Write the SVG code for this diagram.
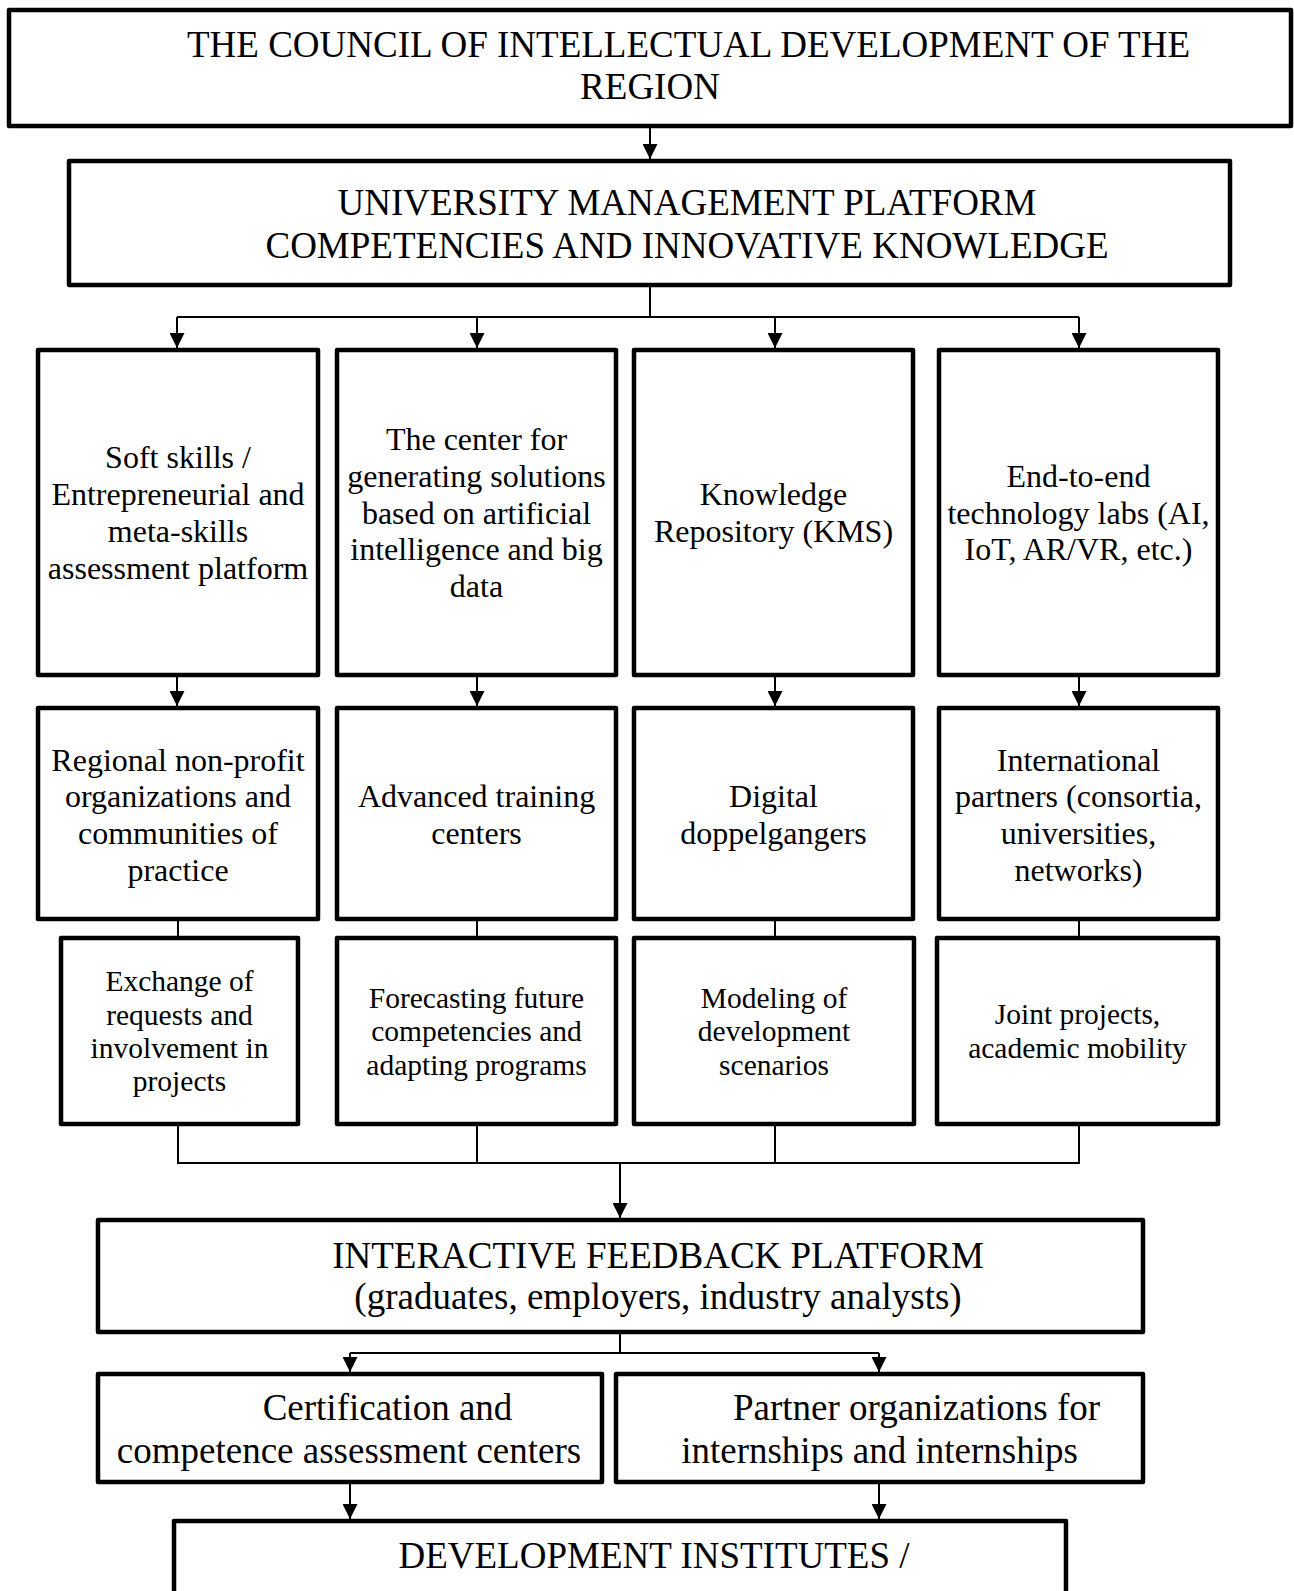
<svg xmlns="http://www.w3.org/2000/svg" width="1294" height="1591" viewBox="0 0 1294 1591">
<style>
.box{fill:#fff;stroke:#000;stroke-width:4.5;stroke-linejoin:round}
.c{fill:none;stroke:#000;stroke-width:2}
.ca{fill:none;stroke:#000;stroke-width:2;marker-end:url(#ah)}
text{font-family:"Liberation Serif","Times New Roman",serif;fill:#000;text-anchor:middle}
.big{font-size:37px}
.mid{font-size:32px}
.sm{font-size:29.5px}
</style>
<defs>
<marker id="ah" markerUnits="userSpaceOnUse" markerWidth="15" markerHeight="15" refX="15" refY="7.5" orient="auto">
<path d="M0,0 L15,7.5 L0,15 z" fill="#000"/>
</marker>
</defs>
<rect width="1294" height="1591" fill="#fff"/>
<g id="connectors">
<path class="ca" d="M650,126 L650,159"/>
<path class="c" d="M650,285 L650,317 M177,317 L1079,317"/>
<path class="ca" d="M177,317 L177,348"/>
<path class="ca" d="M477,317 L477,348"/>
<path class="ca" d="M775,317 L775,348"/>
<path class="ca" d="M1079,317 L1079,348"/>
<path class="ca" d="M177,675 L177,706"/>
<path class="ca" d="M477,675 L477,706"/>
<path class="ca" d="M775,675 L775,706"/>
<path class="ca" d="M1079,675 L1079,706"/>
<path class="c" d="M178,919 L178,938 M477,919 L477,938 M775,919 L775,938 M1079,919 L1079,938"/>
<path class="c" d="M178,1124 L178,1163 L1079,1163 L1079,1124 M477,1124 L477,1163 M775,1124 L775,1163"/>
<path class="ca" d="M620,1163 L620,1218"/>
<path class="c" d="M620,1332 L620,1353 M350,1353 L879,1353"/>
<path class="ca" d="M350,1353 L350,1372"/>
<path class="ca" d="M879,1353 L879,1372"/>
<path class="ca" d="M350,1482 L350,1519"/>
<path class="ca" d="M879,1482 L879,1519"/>
</g>
<g id="council">
<rect class="box" x="9" y="10" width="1282" height="116"/>
<text class="big" x="688.5" y="57">THE COUNCIL OF INTELLECTUAL DEVELOPMENT OF THE</text>
<text class="big" x="650" y="99">REGION</text>
</g>
<g id="platform">
<rect class="box" x="69" y="161" width="1161" height="124"/>
<text class="big" x="687" y="215">UNIVERSITY MANAGEMENT PLATFORM</text>
<text class="big" x="687" y="258">COMPETENCIES AND INNOVATIVE KNOWLEDGE</text>
</g>
<g id="softskills">
<rect class="box" x="38" y="350" width="280" height="325"/>
<text class="mid" x="178"><tspan x="178" y="468">Soft skills /</tspan><tspan x="178" y="505">Entrepreneurial and</tspan><tspan x="178" y="542">meta-skills</tspan><tspan x="178" y="579">assessment platform</tspan></text>
</g>
<g id="aicenter">
<rect class="box" x="337" y="350" width="279" height="325"/>
<text class="mid"><tspan x="476.5" y="450">The center for</tspan><tspan x="476.5" y="487">generating solutions</tspan><tspan x="476.5" y="523.5">based on artificial</tspan><tspan x="476.5" y="560">intelligence and big</tspan><tspan x="476.5" y="597">data</tspan></text>
</g>
<g id="kms">
<rect class="box" x="634" y="350" width="279" height="325"/>
<text class="mid"><tspan x="773.5" y="505">Knowledge</tspan><tspan x="773.5" y="542">Repository (KMS)</tspan></text>
</g>
<g id="labs">
<rect class="box" x="939" y="350" width="279" height="325"/>
<text class="mid"><tspan x="1078.5" y="487">End-to-end</tspan><tspan x="1078.5" y="523.5">technology labs (AI,</tspan><tspan x="1078.5" y="560">IoT, AR/VR, etc.)</tspan></text>
</g>
<g id="ngo">
<rect class="box" x="38" y="708" width="280" height="211"/>
<text class="mid"><tspan x="178" y="770.5">Regional non-profit</tspan><tspan x="178" y="807">organizations and</tspan><tspan x="178" y="844">communities of</tspan><tspan x="178" y="880.5">practice</tspan></text>
</g>
<g id="training">
<rect class="box" x="337" y="708" width="279" height="211"/>
<text class="mid"><tspan x="476.5" y="807">Advanced training</tspan><tspan x="476.5" y="844">centers</tspan></text>
</g>
<g id="doppel">
<rect class="box" x="634" y="708" width="279" height="211"/>
<text class="mid"><tspan x="773.5" y="807">Digital</tspan><tspan x="773.5" y="844">doppelgangers</tspan></text>
</g>
<g id="intl">
<rect class="box" x="939" y="708" width="279" height="211"/>
<text class="mid"><tspan x="1078.5" y="770.5">International</tspan><tspan x="1078.5" y="807">partners (consortia,</tspan><tspan x="1078.5" y="844">universities,</tspan><tspan x="1078.5" y="880.5">networks)</tspan></text>
</g>
<g id="exchange">
<rect class="box" x="61" y="938" width="237" height="186"/>
<text class="sm"><tspan x="179.5" y="991">Exchange of</tspan><tspan x="179.5" y="1024.5">requests and</tspan><tspan x="179.5" y="1058">involvement in</tspan><tspan x="179.5" y="1091">projects</tspan></text>
</g>
<g id="forecast">
<rect class="box" x="337" y="938" width="279" height="186"/>
<text class="sm"><tspan x="476.5" y="1007.5">Forecasting future</tspan><tspan x="476.5" y="1041">competencies and</tspan><tspan x="476.5" y="1074.5">adapting programs</tspan></text>
</g>
<g id="modeling">
<rect class="box" x="634" y="938" width="280" height="186"/>
<text class="sm"><tspan x="774" y="1007.5">Modeling of</tspan><tspan x="774" y="1041">development</tspan><tspan x="774" y="1074.5">scenarios</tspan></text>
</g>
<g id="joint">
<rect class="box" x="937" y="938" width="281" height="186"/>
<text class="sm"><tspan x="1077.5" y="1024">Joint projects,</tspan><tspan x="1077.5" y="1058">academic mobility</tspan></text>
</g>
<g id="feedback">
<rect class="box" x="98" y="1220" width="1045" height="112"/>
<text class="big" x="658" y="1268">INTERACTIVE FEEDBACK PLATFORM</text>
<text class="big" x="658" y="1309">(graduates, employers, industry analysts)</text>
</g>
<g id="certification">
<rect class="box" x="98" y="1374" width="504" height="108"/>
<text class="big" x="387.5" y="1420">Certification and</text>
<text class="big" x="349" y="1463">competence assessment centers</text>
</g>
<g id="partners">
<rect class="box" x="616" y="1374" width="527" height="108"/>
<text class="big" x="916.5" y="1420">Partner organizations for</text>
<text class="big" x="879.5" y="1463">internships and internships</text>
</g>
<g id="institutes">
<rect class="box" x="174" y="1521" width="892" height="100"/>
<text class="big" x="654" y="1568">DEVELOPMENT INSTITUTES /</text>
</g>
</svg>
